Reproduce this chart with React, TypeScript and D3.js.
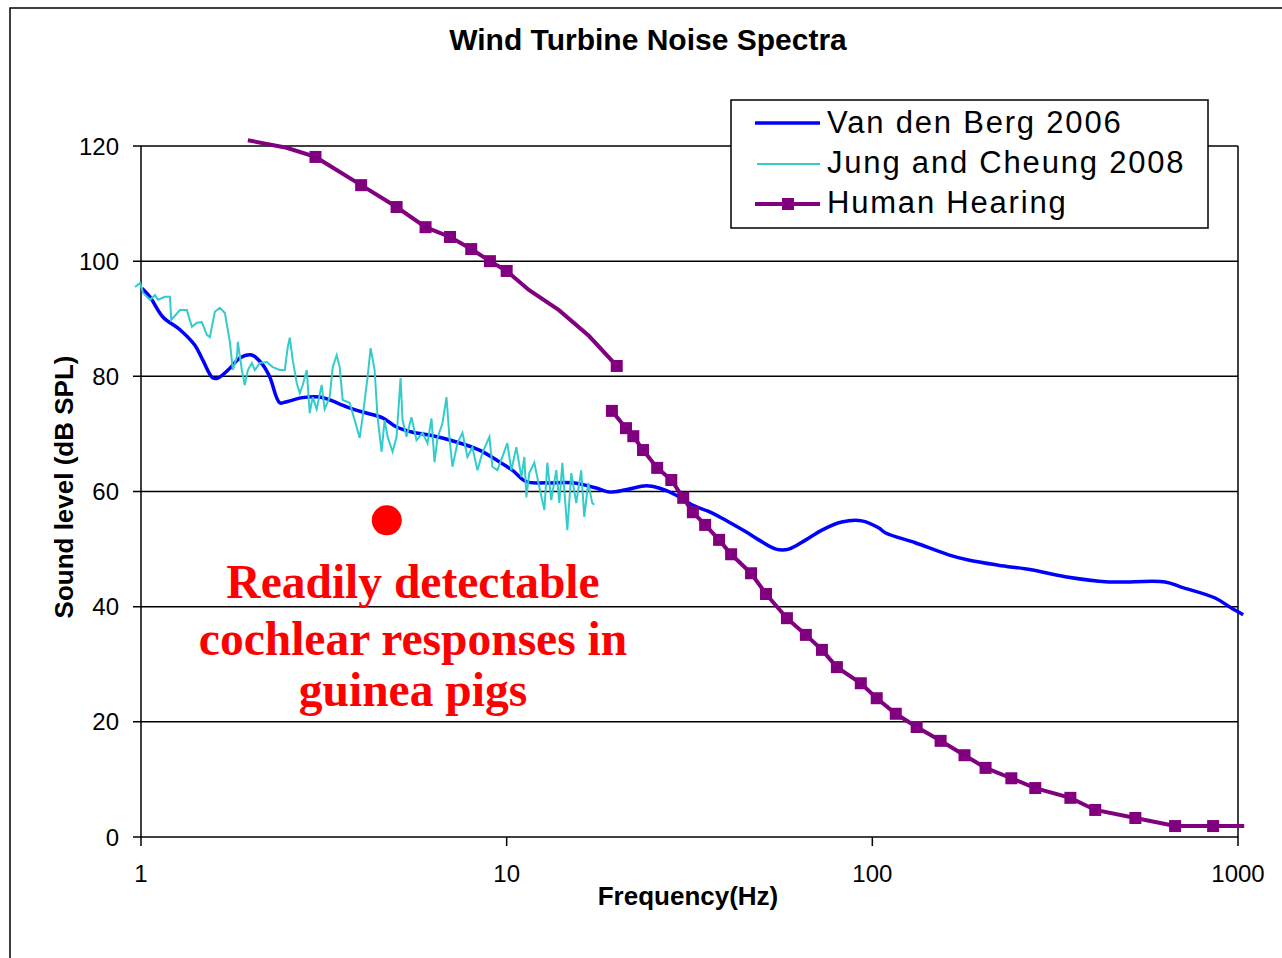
import React from 'react';
import * as d3 from 'd3';

// Van den Berg 2006 (blue)
const vdbFreq = [1.006, 1.058, 1.148, 1.278, 1.404, 1.476, 1.573, 1.623, 1.75, 1.864, 2.009, 2.153, 2.25, 2.396, 2.504, 2.768, 3.082, 3.281, 3.651, 4.037, 4.579, 5.0, 5.53, 6.15, 7.29, 8.42, 9.37, 10.36, 11.32, 12.84, 15.11, 17.57, 19.07, 21.2, 24.1, 26.1, 29.0, 32.1, 36.4, 40.5, 45.1, 48.9, 54.5, 59.1, 65.8, 72.8, 82.5, 93.5, 104, 108.8, 131, 161.7, 183, 221, 272, 337, 442, 632, 699, 866, 957, 1033];
const vdbLevel = [95.3, 93.8, 90.3, 88.1, 85.4, 82.8, 79.7, 79.7, 81.4, 83.2, 83.7, 82.0, 79.9, 75.4, 75.6, 76.3, 76.4, 75.9, 74.7, 73.8, 72.8, 71.2, 70.3, 69.8, 68.6, 67.2, 65.5, 63.7, 61.7, 61.5, 61.5, 60.6, 59.9, 60.3, 61.0, 60.6, 59.4, 57.7, 56.3, 54.7, 53.0, 51.6, 50.0, 50.0, 51.6, 53.3, 54.7, 54.9, 53.7, 52.8, 51.1, 49.0, 48.1, 47.2, 46.4, 45.2, 44.3, 44.3, 43.4, 41.5, 39.8, 38.6];

// Jung and Cheung 2008 (cyan)
const jcFreq = [0.963, 0.994, 1.013, 1.058, 1.092, 1.113, 1.163, 1.2, 1.21, 1.278, 1.335, 1.378, 1.422, 1.467, 1.514, 1.543, 1.592, 1.643, 1.696, 1.75, 1.783, 1.829, 1.84, 1.887, 1.922, 1.96, 2.009, 2.048, 2.113, 2.208, 2.293, 2.396, 2.473, 2.52, 2.552, 2.6, 2.667, 2.718, 2.769, 2.84, 2.893, 2.948, 3.023, 3.119, 3.179, 3.281, 3.344, 3.429, 3.494, 3.56, 3.72, 3.888, 3.962, 4.037, 4.166, 4.246, 4.354, 4.436, 4.549, 4.636, 4.725, 4.875, 5.0, 5.127, 5.191, 5.322, 5.492, 5.668, 5.886, 6.075, 6.229, 6.348, 6.469, 6.676, 6.846, 6.976, 7.109, 7.336, 7.57, 7.812, 8.06, 8.318, 8.583, 8.97, 9.141, 9.433, 9.734, 10.04, 10.3, 10.63, 10.97, 11.18, 11.32, 11.53, 11.9, 12.28, 12.68, 12.92, 13.24, 13.67, 13.93, 14.2, 14.65, 15.02, 15.5, 15.99, 16.3, 16.71, 17.14, 17.36];
const jcLevel = [95.5, 96.2, 94.5, 93.3, 94.1, 93.3, 93.8, 93.8, 89.8, 91.5, 91.5, 88.6, 89.3, 89.4, 87.2, 86.8, 91.2, 91.9, 91.0, 86.0, 81.1, 83.4, 86.0, 81.1, 78.5, 81.1, 82.3, 81.1, 82.3, 82.5, 81.6, 81.1, 81.1, 85.1, 86.7, 82.8, 78.8, 77.1, 78.5, 81.1, 73.6, 76.4, 74.3, 78.5, 74.3, 76.4, 81.6, 83.7, 81.6, 75.9, 75.4, 71.2, 69.3, 72.9, 79.9, 84.9, 81.1, 72.9, 66.9, 72.4, 69.5, 66.9, 69.5, 79.7, 72.4, 69.5, 72.9, 68.9, 70.2, 68.4, 72.7, 65.1, 69.3, 71.9, 76.4, 69.3, 64.3, 68.4, 70.2, 66.0, 67.7, 63.7, 66.7, 69.5, 64.3, 63.7, 66.0, 68.4, 63.7, 67.7, 62.5, 66.0, 59.0, 63.2, 65.0, 60.8, 56.8, 65.0, 58.5, 63.7, 58.0, 65.0, 53.3, 63.2, 58.0, 63.7, 55.6, 61.5, 58.0, 57.7];

// Human hearing threshold, infrasound part
const infraFreq = [1.96, 2.5, 3, 4, 5, 6, 7, 8, 9, 10, 11.5, 13.9, 16.8, 20];
const infraLevel = [121.0, 119.7, 118.1, 113.2, 109.4, 105.9, 104.2, 102.1, 100.0, 98.3, 95.0, 91.5, 87.0, 81.8];
const infraMarked = [false, false, true, true, true, true, true, true, true, true, false, false, false, true];

// Human hearing threshold, audible part
const audFreq = [19.4, 21.2, 22.2, 23.6, 25.8, 28.2, 30.4, 32.3, 34.9, 38.1, 41.1, 46.6, 51.2, 58.4, 65.8, 72.8, 80, 93, 102.8, 115.9, 132.2, 153.7, 178.7, 204, 240, 279, 348, 407, 524, 673, 855, 1040];
const audLevel = [74.0, 71.0, 69.6, 67.2, 64.1, 62.0, 58.9, 56.4, 54.2, 51.6, 49.1, 45.8, 42.2, 38.0, 35.1, 32.5, 29.5, 26.7, 24.1, 21.4, 19.1, 16.7, 14.2, 12.0, 10.2, 8.5, 6.8, 4.7, 3.3, 1.9, 1.9, 1.9];

// guinea pig point
const pigFreq = 4.7;
const pigLevel = 55;
const pigText = ['Readily detectable', 'cochlear responses in', 'guinea pigs'];

const yTicks = [0, 20, 40, 60, 80, 100, 120];
const xTicks = [1, 10, 100, 1000];
const legendItems = ['Van den Berg 2006', 'Jung and Cheung 2008', 'Human Hearing'];

const W = 1282;
const H = 958;
const sans = '"Liberation Sans", Arial, sans-serif';
const serif = '"Liberation Serif", "Times New Roman", serif';

const x = d3.scaleLog().domain([1, 1000]).range([141, 1238]);
const y = d3.scaleLinear().domain([0, 120]).range([837, 146]);

type Pt = [number, number];
const zip = (f: number[], v: number[]): Pt[] => f.map((d, i) => [d, v[i]]);

const line = d3.line<Pt>().x(d => x(d[0])).y(d => y(d[1]));
const smooth = d3.line<Pt>().x(d => x(d[0])).y(d => y(d[1])).curve(d3.curveCatmullRom);

const App: React.FC = () => {
    const vdb = zip(vdbFreq, vdbLevel);
    const jc = zip(jcFreq, jcLevel);
    const infra = zip(infraFreq, infraLevel);
    const aud = zip(audFreq, audLevel);
    const markers = [
        ...infra.filter((_, i) => infraMarked[i]),
        ...aud.slice(0, aud.length - 1),
    ];
    const ms = 12;

    return (
        <svg width={W} height={H} style={{ position: 'absolute', left: 0, top: 0, background: '#fff' }}>
            <defs>
                <clipPath id="noteClip">
                    <rect x={0} y={0} width={W} height={y(20) - 1} />
                </clipPath>
            </defs>
            <rect x={10} y={8} width={1300} height={1000} fill="#fff" stroke="#000" strokeWidth={1.5} />

            <text x={648} y={50} textAnchor="middle" fontFamily={sans} fontWeight="bold" fontSize={30}>
                Wind Turbine Noise Spectra
            </text>

            {/* grid and frame */}
            {yTicks.map(t => (
                <line key={t} x1={133} x2={1238} y1={y(t)} y2={y(t)} stroke="#000" strokeWidth={1.5} />
            ))}
            <line x1={141} x2={141} y1={y(120)} y2={y(0)} stroke="#000" strokeWidth={1.5} />
            <line x1={1238} x2={1238} y1={y(120)} y2={y(0)} stroke="#000" strokeWidth={1.5} />
            {xTicks.map(t => (
                <line key={t} x1={x(t)} x2={x(t)} y1={y(0)} y2={y(0) + 9} stroke="#000" strokeWidth={1.5} />
            ))}

            {yTicks.map(t => (
                <text key={t} x={119} y={y(t)} dy="0.36em" textAnchor="end" fontFamily={sans} fontSize={24}>
                    {t}
                </text>
            ))}
            {xTicks.map(t => (
                <text key={t} x={x(t)} y={882} textAnchor="middle" fontFamily={sans} fontSize={24}>
                    {t}
                </text>
            ))}
            <text x={688} y={905} textAnchor="middle" fontFamily={sans} fontWeight="bold" fontSize={26}>
                Frequency(Hz)
            </text>
            <text transform="translate(73,487) rotate(-90)" textAnchor="middle" fontFamily={sans} fontWeight="bold" fontSize={26}>
                Sound level (dB SPL)
            </text>

            {/* series */}
            <path d={smooth(vdb) || undefined} fill="none" stroke="#0000ff" strokeWidth={3.5} />
            <path d={line(jc) || undefined} fill="none" stroke="#33cccc" strokeWidth={2} />
            <path d={line(infra) || undefined} fill="none" stroke="#800080" strokeWidth={4} />
            <path d={line(aud) || undefined} fill="none" stroke="#800080" strokeWidth={4} />
            {markers.map((d, i) => (
                <rect key={i} x={x(d[0]) - ms / 2} y={y(d[1]) - ms / 2} width={ms} height={ms} fill="#800080" />
            ))}

            {/* guinea pig annotation */}
            <circle cx={x(pigFreq)} cy={y(pigLevel)} r={15} fill="#ff0000" />
            <g clipPath="url(#noteClip)">
                {pigText.map((s, i) => (
                    <text key={s} x={413} y={[598, 655, 706][i]} textAnchor="middle" fontFamily={serif}
                        fontWeight="bold" fontSize={47.5} fill="#ff0000">
                        {s}
                    </text>
                ))}
            </g>

            {/* legend */}
            <rect x={731} y={100} width={477} height={128} fill="#fff" stroke="#000" strokeWidth={1.5} />
            <line x1={755} x2={820} y1={123} y2={123} stroke="#0000ff" strokeWidth={3.5} />
            <line x1={757} x2={820} y1={164} y2={164} stroke="#33cccc" strokeWidth={2} />
            <line x1={755} x2={820} y1={204} y2={204} stroke="#800080" strokeWidth={4} />
            <rect x={788 - ms / 2} y={204 - ms / 2} width={ms} height={ms} fill="#800080" />
            {legendItems.map((s, i) => (
                <text key={s} x={827} y={133 + i * 40} fontFamily={sans} fontSize={31} letterSpacing={1.8}>
                    {s}
                </text>
            ))}
        </svg>
    );
};

export default App;
